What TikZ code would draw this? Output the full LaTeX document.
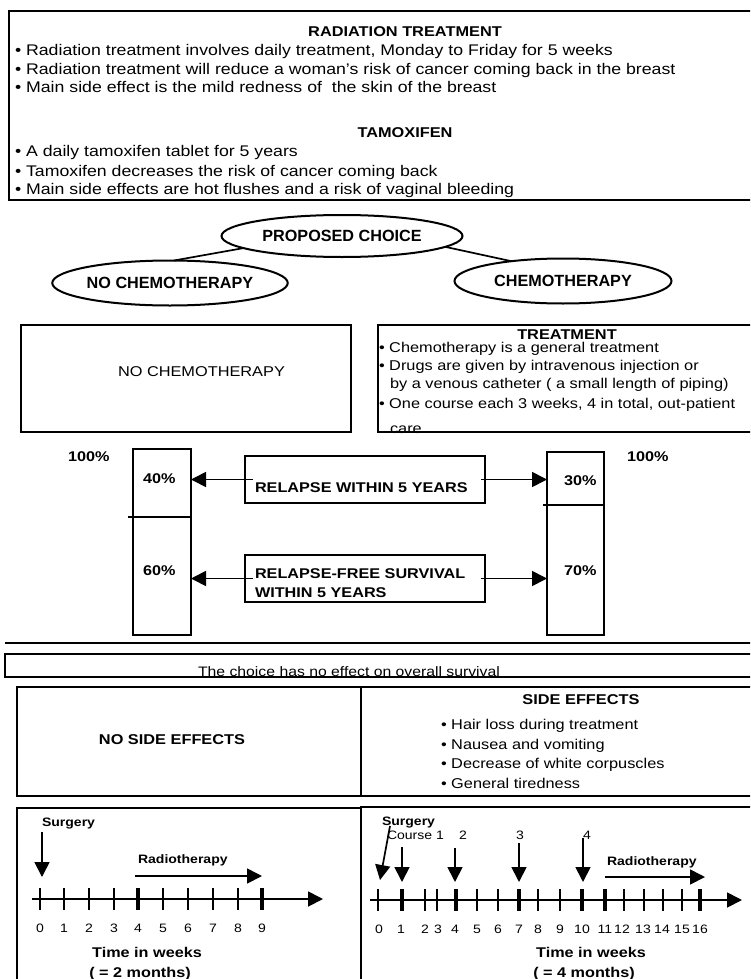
\documentclass[tikz,border=0pt]{standalone}
\usepackage{fontspec}
\setmainfont{Liberation Sans}[FakeStretch=1.15]
\newfontfamily\plainsans{Liberation Sans}
\usetikzlibrary{arrows.meta,shapes.geometric}
\tikzset{
  every node/.style={inner sep=0pt,outer sep=0pt},
  body/.style={anchor=base west,font=\fontsize{15.4}{18}\selectfont},
  bodyc/.style={anchor=base west,font=\fontsize{14.2}{17}\selectfont},
  hd/.style={anchor=base,font=\bfseries\fontsize{14.2}{17}\selectfont},
  bhead/.style={anchor=base west,font=\bfseries\fontsize{14.1}{17}\selectfont},
  oval/.style={draw,ellipse,line width=2pt,font=\plainsans\bfseries\fontsize{16.2}{19}\selectfont},
  frame/.style={draw,rectangle,anchor=north west},
  tip/.style={-{Triangle[length=15pt,width=15pt]}},
  tl/.style={anchor=base west,font=\bfseries\fontsize{12.2}{15}\selectfont},
  tlc/.style={anchor=base,font=\fontsize{12.2}{15}\selectfont},
  num/.style={anchor=base,font=\fontsize{12.2}{15}\selectfont},
  tw/.style={anchor=base,font=\bfseries\fontsize{14.1}{17}\selectfont},
  smalltick/.style={line width=1.6pt},
  bigtick/.style={line width=3.6pt},
}
\begin{document}
\begin{tikzpicture}[x=1pt,y=-1pt,line width=1.7pt]
\useasboundingbox (0,0) rectangle (750,979);
\fill[white] (0,0) rectangle (750,979);
\clip (0,0) rectangle (750,979);

% ---------- top box ----------
\node[frame,minimum width=760pt,minimum height=189pt] (topbox) at (9,11) {};
\node[hd] (radh) at (405,37) {RADIATION TREATMENT};
\node[body] (rad1) at (15,56) {• Radiation treatment involves daily treatment, Monday to Friday for 5 weeks};
\node[body] (rad2) at (15,75) {• Radiation treatment will reduce a woman’s risk of cancer coming back in the breast};
\node[body] (rad3) at (15,93) {• Main side effect is the mild redness of \ the skin of the breast};
\node[hd] (tamh) at (405,137) {TAMOXIFEN};
\node[body] (tam1) at (15,156) {• A daily tamoxifen tablet for 5 years};
\node[body] (tam2) at (15,176) {• Tamoxifen decreases the risk of cancer coming back};
\node[body] (tam3) at (15,194) {• Main side effects are hot flushes and a risk of vaginal bleeding};

% ---------- choice ellipses ----------
\node[oval,minimum width=241pt,minimum height=42pt] (prop) at (342,236) {PROPOSED CHOICE};
\node[oval,minimum width=216pt,minimum height=45pt] (nochemo) at (170,283) {NO CHEMOTHERAPY};
\node[oval,minimum width=217pt,minimum height=45pt] (chemo) at (563,281) {CHEMOTHERAPY};
\draw (nochemo.80) -- (prop.187);
\draw (prop.-6) -- (chemo.159);

% ---------- treatment boxes ----------
\node[frame,minimum width=330pt,minimum height=107pt] (lbox) at (21,325) {};
\node[bodyc] (lboxtxt) at (118,376) {NO CHEMOTHERAPY};
\node[hd] (treath) at (567,339) {TREATMENT};
\node[bodyc] (tr1) at (379,352) {• Chemotherapy is a general treatment};
\node[bodyc] (tr2) at (379,370) {• Drugs are given by intravenous injection or};
\node[bodyc] (tr3) at (390,388) {by a venous catheter ( a small length of piping)};
\node[bodyc] (tr4) at (379,408) {• One course each 3 weeks, 4 in total, out-patient};
\node[bodyc] (tr5) at (390,433) {care};
\node[frame,minimum width=390pt,minimum height=107pt] (rbox) at (378,325) {};

% ---------- relapse ----------
\node[frame,minimum width=58pt,minimum height=186pt] (lbar) at (133,449) {};
\node[frame,minimum width=57pt,minimum height=183pt] (rbar) at (547,452) {};
\draw (128,517) -- (191,517);
\draw (543,505) -- (605,505);
\node[bhead] (p100l) at (68,461) {100\%};
\node[bhead] (p40) at (143,483) {40\%};
\node[bhead] (p60) at (143,575) {60\%};
\node[bhead] (p30) at (564,485) {30\%};
\node[bhead] (p70) at (564,575) {70\%};
\node[bhead] (p100r) at (627,461) {100\%};
\node[frame,minimum width=240pt,minimum height=47pt] (rel) at (245,456) {};
\node[bhead] (reltxt) at (255,492) {RELAPSE WITHIN 5 YEARS};
\node[frame,minimum width=240pt,minimum height=47pt] (free) at (245,555) {};
\node[bhead] (freetxt1) at (255,578) {RELAPSE-FREE SURVIVAL};
\node[bhead] (freetxt2) at (255,597) {WITHIN 5 YEARS};
\draw[tip] ([xshift=8pt]rel.west) -- (rel.west -| lbar.east);
\draw[tip] ([xshift=-4pt]rel.east) -- (rel.east -| rbar.west);
\draw[tip] ([xshift=8pt]free.west) -- (free.west -| lbar.east);
\draw[tip] ([xshift=-4pt]free.east) -- (free.east -| rbar.west);

% ---------- survival / side effects ----------
\draw (5,643) -- (760,643);
\node[anchor=base,font=\fontsize{13.7}{16}\selectfont] (choicetxt) at (349,676) {The choice has no effect on overall survival};
\node[frame,minimum width=760pt,minimum height=23pt] (choice) at (5,654) {};
\node[frame,minimum width=344pt,minimum height=109pt] (nose) at (17,687) {};
\node[frame,minimum width=400pt,minimum height=109pt] (se) at (361,687) {};
\node[hd] (nosetxt) at (172,744) {NO SIDE EFFECTS};
\node[hd] (setitle) at (581,704) {SIDE EFFECTS};
\node[bodyc] (se1) at (441,729) {• Hair loss during treatment};
\node[bodyc] (se2) at (441,749) {• Nausea and vomiting};
\node[bodyc] (se3) at (441,768) {• Decrease of white corpuscles};
\node[bodyc] (se4) at (441,788) {• General tiredness};

% ---------- timelines ----------
\node[frame,minimum width=344pt,minimum height=200pt] (tlL) at (17,808) {};
\node[frame,minimum width=400pt,minimum height=200pt] (tlR) at (361,807) {};

% left timeline
\coordinate (axLs) at (32,899);
\coordinate (axLe) at (323,899);
\draw[tip,line width=1.8pt] (axLs) -- (axLe);
\foreach \x/\l in {40/0,64/1,89/2,114/3,163/5,188/6,213/7,238/8}{
  \draw[smalltick] (\x,888) -- (\x,910);
  \node[num] (nl\l) at (\x,932) {\l};
}
\foreach \x/\l in {138/4,262/9}{
  \draw[bigtick] (\x,888) -- (\x,910);
  \node[num] (nl\l) at (\x,932) {\l};
}
\node[tl] (surgL) at (42,826) {Surgery};
\coordinate (surgLs) at (42,832);
\coordinate (surgLe) at (42,877);
\draw[tip] (surgLs) -- (surgLe);
\node[tl] (radL) at (138,863) {Radiotherapy};
\coordinate (radLs) at (135,876);
\coordinate (radLe) at (262,876);
\draw[tip] (radLs) -- (radLe);
\node[tw] (twL) at (147,957) {Time in weeks};
\node[tw] (moL) at (140,977) {( = 2 months)};

% right timeline
\coordinate (axRs) at (370,900);
\coordinate (axRe) at (742,900);
\draw[tip,line width=1.8pt] (axRs) -- (axRe);
\foreach \x/\l in {378/0,425/2,437/3,477/5,498/6,538/8,560/9,624/12,644/13,663/14,682/15}{
  \draw[smalltick] (\x,889) -- (\x,911);
}
\foreach \x/\l in {402/1,456/4,519/7,582/10,605/11,700/16}{
  \draw[bigtick] (\x,889) -- (\x,911);
}
\foreach \x/\l in {379/0,401/1,425/2,438/3,455/4,477/5,498/6,519/7,538/8,560/9,582/10,605/11,622/12,643/13,662/14,682/15,700/16}{
  \node[num] (nr\l) at (\x,933) {\l};
}
\node[tl] (surgR) at (382,825) {Surgery};
\node[tl,font=\fontsize{12.2}{15}\selectfont] (course1) at (387,839) {Course 1};
\node[tlc] (c2) at (463,839) {2};
\node[tlc] (c3) at (520,839) {3};
\node[tlc] (c4) at (587,839) {4};
\coordinate (sRs) at (390,826);
\coordinate (sRe) at (380,880);
\draw[tip] (sRs) -- (sRe);
\coordinate (c1s) at (402,847);
\coordinate (c1e) at (402,882);
\draw[tip] (c1s) -- (c1e);
\coordinate (c2s) at (455,848);
\coordinate (c2e) at (455,882);
\draw[tip] (c2s) -- (c2e);
\coordinate (c3s) at (519,843);
\coordinate (c3e) at (519,882);
\draw[tip] (c3s) -- (c3e);
\coordinate (c4s) at (583,838);
\coordinate (c4e) at (583,882);
\draw[tip] (c4s) -- (c4e);
\node[tl] (radR) at (607,865) {Radiotherapy};
\coordinate (radRs) at (605,877);
\coordinate (radRe) at (705,877);
\draw[tip] (radRs) -- (radRe);
\node[tw] (twR) at (591,957) {Time in weeks};
\node[tw] (moR) at (584,977) {( = 4 months)};
\end{tikzpicture}
\end{document}
